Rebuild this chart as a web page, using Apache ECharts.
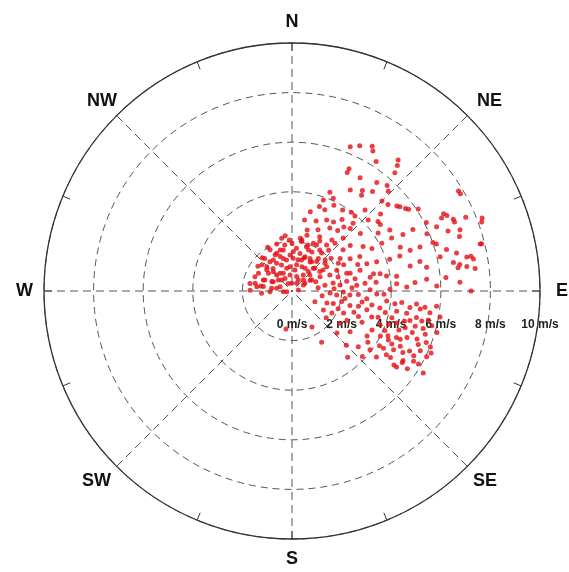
<!DOCTYPE html>
<html>
<head>
<meta charset="utf-8">
<script src="https://cdn.jsdelivr.net/npm/echarts@6/dist/echarts.min.js"></script>
<style>
  html, body { margin: 0; padding: 0; background: #fff; }
  #windScatter { width: 569px; height: 572px; }
</style>
</head>
<body>
<div id="windScatter"></div>
<script>
// compass labels every 45 deg, clockwise from north
const directionLabels = ['N', 'NE', 'E', 'SE', 'S', 'SW', 'W', 'NW'];
// speed rings (m/s)
const speedMax = 10;
const speedStep = 2;

// wind speed (m/s)
const windSpeed = [
  6.27, 6.46, 6.67, 6.23, 6.80, 6.61, 5.44, 6.32, 5.33, 5.55, 5.73, 4.70, 4.95, 5.16, 5.59, 4.26, 4.77, 7.83, 3.88, 4.09,
  5.13, 5.21, 5.44, 5.52, 5.66, 5.74, 6.07, 3.28, 3.58, 3.53, 3.85, 3.85, 3.97, 3.95, 4.40, 4.73, 6.86, 6.95, 7.12, 7.61,
  8.21, 2.91, 2.99, 3.19, 3.25, 3.52, 3.32, 3.68, 4.20, 4.46, 4.46, 6.08, 6.38, 6.74, 7.21, 2.53, 2.68, 2.96, 3.06, 3.44,
  3.60, 4.19, 4.65, 5.02, 5.47, 5.91, 6.01, 6.12, 7.82, 2.10, 1.96, 1.77, 1.42, 1.38, 2.46, 2.61, 2.97, 2.98, 3.38, 3.65,
  4.10, 4.55, 4.71, 5.04, 5.46, 6.45, 6.81, 7.18, 7.43, 6.61, 6.85, 2.34, 2.68, 3.07, 3.21, 3.61, 4.14, 4.57, 4.87, 5.29,
  5.51, 6.13, 1.71, 1.99, 2.45, 2.87, 3.36, 3.86, 4.26, 6.71, 7.12, 8.14, 7.10, 7.35, 6.76, 7.44, 6.23, 6.78, 7.22, 7.88,
  7.12, 7.84, 6.52, 5.27, 2.17, 1.92, 2.15, 2.33, 1.88, 1.64, 1.69, 1.59, 1.55, 1.78, 2.11, 1.94, 2.21, 1.71, 1.46, 1.47,
  1.27, 1.32, 1.31, 1.50, 1.55, 1.83, 1.41, 1.19, 1.13, 0.98, 1.07, 1.06, 1.26, 1.37, 1.19, 0.89, 0.80, 0.65, 0.61, 0.79,
  0.85, 1.18, 0.84, 0.61, 0.34, 0.36, 0.52, 1.17, 0.83, 0.51, 0.21, 0.26, 1.52, 1.53, 2.59, 2.65, 2.18, 2.32, 0.64, 0.97,
  1.27, 1.66, 1.35, 1.69, 1.95, 2.24, 2.62, 2.96, 3.20, 3.62, 1.54, 1.81, 2.07, 2.34, 2.68, 3.03, 3.42, 3.95, 4.23, 4.63,
  4.97, 5.45, 5.84, 1.74, 2.05, 2.41, 2.75, 3.11, 3.84, 4.18, 4.45, 4.80, 5.05, 5.40, 5.86, 1.02, 1.48, 1.84, 2.26, 2.87,
  3.38, 3.86, 4.30, 4.71, 5.13, 5.62, 6.06, 3.80, 4.12, 4.42, 4.80, 5.17, 5.50, 5.81, 6.08, 2.48, 2.86, 3.53, 4.00, 4.36,
  4.61, 5.00, 5.40, 5.80, 4.35, 4.73, 4.90, 5.32, 5.71, 4.32, 4.79, 5.28, 5.66, 6.04, 5.21, 3.94, 3.69, 3.49, 3.10, 1.55,
  1.27, 1.69, 1.66, 2.39, 3.49, 3.88, 6.24, 6.14,
  // dense low-speed blob north/north-west of the centre
  1.61, 1.72, 1.88, 2.06, 1.73, 2.03, 1.88, 2.11, 2.00, 2.32, 1.48, 1.28, 1.36, 1.45, 1.28, 1.48, 1.42, 1.69, 1.74, 1.33,
  1.08, 0.86, 0.94, 0.86, 1.06, 1.02, 1.30, 1.24, 0.90, 0.71, 0.58, 0.31, 0.51, 0.61, 0.91, 1.72, 1.43, 0.63, 0.35, 0.89,
  1.23, 1.60, 1.61, 2.02, 1.99, 1.80, 1.70, 2.24, 2.31, 2.06, 1.51, 1.03,
  // easterly group just past 2 m/s
  1.06, 1.23, 1.49, 1.70, 1.99, 2.16, 2.42, 2.64, 2.51, 2.86, 3.09, 3.15, 3.27, 2.33, 1.75, 2.59, 1.94, 2.86, 2.34, 3.41,
  3.71, 3.61,
  // east-south-east group around 5 m/s
  4.07, 4.56, 4.59, 5.11, 4.90, 5.13, 5.53, 5.37, 5.65, 6.02, 4.59, 5.08, 5.61, 5.89, 3.63, 4.17, 4.78, 5.56, 4.16, 3.59,
  5.22, 5.63, 4.69, 4.27, 5.30
];
// wind direction (deg, clockwise from north), same order as windSpeed
const windDirection = [
  22, 25, 29, 33, 39, 40, 25, 41, 31, 38, 42, 30, 35, 39, 44, 21, 36, 59, 19, 24,
  45, 48, 51, 52, 54, 55, 57, 13, 18, 22, 26, 32, 37, 40, 42, 49, 63, 64, 66, 67,
  69, 10, 19, 26, 31, 35, 39, 42, 47, 51, 53, 63, 66, 69, 70, 14, 23, 31, 37, 43,
  50, 56, 58, 63, 63, 67, 71, 72, 76, 11, 19, 27, 20, 32, 27, 38, 44, 52, 58, 62,
  62, 62, 68, 71, 71, 75, 77, 79, 80, 80, 81, 56, 61, 63, 70, 71, 72, 72, 78, 77,
  80, 77, 55, 65, 73, 73, 78, 81, 82, 64, 67, 70, 72, 79, 82, 83, 85, 87, 90, 76,
  82, 60, 30, 25, 349, 0, 9, 15, 332, 338, 348, 2, 12, 22, 28, 38, 42, 320, 329, 341,
  350, 2, 17, 29, 40, 47, 314, 320, 338, 355, 10, 30, 43, 55, 307, 316, 334, 353, 18, 35,
  59, 292, 296, 317, 334, 31, 62, 279, 278, 290, 262, 81, 282, 298, 42, 51, 59, 72, 46, 48,
  63, 67, 80, 79, 83, 80, 85, 84, 80, 79, 93, 95, 91, 94, 93, 96, 92, 89, 86, 88,
  86, 85, 88, 107, 102, 104, 103, 104, 96, 97, 96, 98, 96, 97, 96, 115, 121, 119, 113, 111,
  108, 103, 101, 101, 102, 102, 100, 111, 109, 107, 108, 106, 106, 104, 106, 133, 125, 121, 117, 117,
  114, 112, 111, 111, 122, 120, 117, 117, 115, 128, 124, 122, 120, 116, 126, 127, 124, 130, 135, 189,
  279, 271, 151, 150, 140, 133, 122, 114,
  335, 344, 351, 357, 6, 11, 18, 24, 34, 37, 323, 331, 345, 357, 11, 21, 34, 39, 50, 310,
  316, 326, 347, 8, 22, 40, 45, 291, 295, 309, 331, 358, 30, 59, 61, 280, 277, 280, 265, 268,
  266, 291, 311, 331, 342, 318, 306, 353, 29, 50, 56, 69,
  83, 99, 109, 87, 111, 98, 87, 109, 118, 99, 114, 89, 100, 124, 128, 79, 73, 68, 63, 84,
  92, 101,
  113, 118, 110, 119, 104, 109, 113, 103, 108, 112, 124, 126, 124, 120, 107, 105, 114, 118, 122, 116,
  98, 99, 105, 115, 123
];

const chartEle = document.getElementById('windScatter');
const myChart = echarts.init(chartEle);

const gridColor = '#555';
const labelFont = 'Liberation Sans, Arial, sans-serif';

const scatterData = windSpeed.map((s, i) => [s, windDirection[i]]);

const option = {
  backgroundColor: '#fff',
  animation: false,
  polar: [
    { center: [292, 291], radius: 248 },
    // second polar only carries the speed labels along the east spoke
    { center: [292, 291], radius: 248 }
  ],
  angleAxis: [
    {
      polarIndex: 0,
      type: 'value',
      min: 0,
      max: 360,
      interval: 45,
      startAngle: 90,
      clockwise: true,
      axisLine: { lineStyle: { color: '#333', width: 1.3 } },
      axisTick: { show: true, inside: true, length: 8, lineStyle: { color: '#333' } },
      minorTick: { show: true, splitNumber: 2, length: 8, lineStyle: { color: '#333' } },
      splitLine: { show: true, lineStyle: { color: gridColor, width: 1, type: [8, 5] } },
      axisLabel: {
        margin: 8,
        fontSize: 18,
        fontWeight: 'bold',
        fontFamily: labelFont,
        color: '#111',
        formatter: function (v) {
          const i = Math.round(v / 45);
          if (v >= 360 || !directionLabels[i]) return '';
          return '{d' + i + '|' + directionLabels[i] + '}';
        },
        rich: {
          d0: { padding: [0, 0, 4, 0] },
          d1: { padding: [0, 0, 0, 4] },
          d2: { padding: [0, 0, 0, 8] },
          d3: {},
          d4: { padding: [3, 0, 0, 0] },
          d5: {},
          d6: { padding: [0, 3, 0, 0] },
          d7: { width: 24, align: 'left' }
        }
      }
    },
    {
      polarIndex: 1,
      type: 'value',
      min: 0,
      max: 360,
      startAngle: 0,
      clockwise: true,
      axisLine: { show: false },
      axisTick: { show: false },
      axisLabel: { show: false },
      splitLine: { show: false }
    }
  ],
  radiusAxis: [
    {
      polarIndex: 0,
      min: 0,
      max: speedMax,
      interval: speedStep,
      axisLine: { show: false },
      axisTick: { show: false },
      axisLabel: { show: false },
      splitLine: { show: true, lineStyle: { color: gridColor, width: 1, type: [7, 5] } }
    },
    {
      polarIndex: 1,
      min: 0,
      max: speedMax,
      interval: speedStep,
      axisLine: { show: false },
      axisTick: { show: false },
      splitLine: { show: false },
      axisLabel: {
        margin: -40,
        fontSize: 12,
        fontWeight: 'bold',
        fontFamily: labelFont,
        color: '#222',
        formatter: '{value} m/s'
      }
    }
  ],
  series: [
    {
      name: 'wind',
      type: 'scatter',
      coordinateSystem: 'polar',
      polarIndex: 0,
      symbolSize: 5,
      itemStyle: { color: '#e30f14' },
      data: scatterData
    }
  ]
};

myChart.setOption(option);
</script>
</body>
</html>
